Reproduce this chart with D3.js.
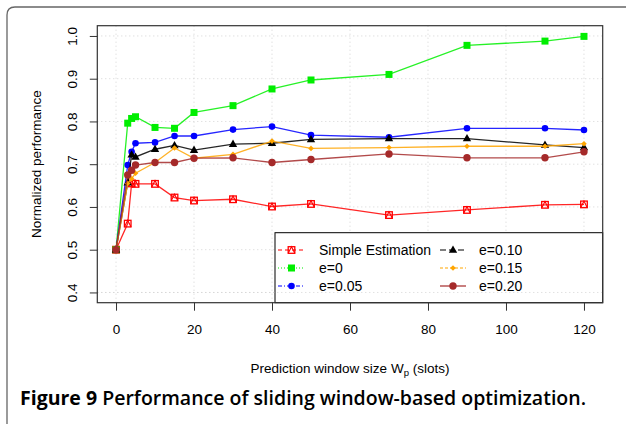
<!DOCTYPE html>
<html>
<head>
<meta charset="utf-8">
<script src="https://cdn.jsdelivr.net/npm/d3@7"></script>
<style>
  body { margin: 0; background: #fff; }
  svg text { font-family: "Liberation Sans", Arial, Helvetica, sans-serif; }
</style>
</head>
<body>
<svg id="chart" width="626" height="424"></svg>
<script>
// Données
const windowSizes = [0, 3, 4, 5, 10, 15, 20, 30, 40, 50, 70, 90, 110, 120];
const simpleEstimation = [0.5, 0.561, 0.655, 0.654, 0.654, 0.622, 0.615, 0.618, 0.601, 0.607, 0.581, 0.593, 0.605, 0.606];
const e0   = [0.5, 0.796, 0.807, 0.811, 0.786, 0.784, 0.821, 0.837, 0.876, 0.897, 0.910, 0.978, 0.988, 0.999];
const e005 = [0.5, 0.698, 0.729, 0.749, 0.751, 0.766, 0.766, 0.781, 0.788, 0.768, 0.763, 0.784, 0.784, 0.780];
const e010 = [0.5, 0.657, 0.722, 0.717, 0.735, 0.744, 0.733, 0.747, 0.749, 0.758, 0.760, 0.760, 0.745, 0.739];
const e015 = [0.5, 0.655, 0.666, 0.679, 0.704, 0.738, 0.714, 0.723, 0.754, 0.737, 0.739, 0.742, 0.742, 0.748];
const e020 = [0.5, 0.675, 0.686, 0.698, 0.704, 0.704, 0.714, 0.715, 0.704, 0.711, 0.724, 0.715, 0.715, 0.729];
const xTicks = [0, 20, 40, 60, 80, 100, 120];
const yTicks = [0.4, 0.5, 0.6, 0.7, 0.8, 0.9, 1.0];

const series = [
  { name: "Simple Estimation", values: simpleEstimation, color: "#ff0000", shape: "sqtri", dash: "4,3" },
  { name: "e=0",    values: e0,   color: "#00ee00", shape: "square",  dash: "1,2" },
  { name: "e=0.05", values: e005, color: "#0000ff", shape: "circle",  dash: "4,2,1,2" },
  { name: "e=0.10", values: e010, color: "#000000", shape: "triangle", dash: "6,3" },
  { name: "e=0.15", values: e015, color: "#ffa500", shape: "diamond", dash: "3,2" },
  { name: "e=0.20", values: e020, color: "#a52a2a", shape: "bigcircle", dash: null }
];

const svg = d3.select("#chart");
const pLeft = 97.3, pRight = 602.7, pTop = 25.7, pBottom = 302.7;

const x = d3.scaleLinear().domain([-4.8, 124.8]).range([pLeft, pRight]);
const y = d3.scaleLinear().domain([0.376, 1.024]).range([pBottom, pTop]);

// Cadre extérieur arrondi
svg.append("path")
  .attr("d", "M7,424 L7,15 Q7,7 15,7 L626,7")
  .attr("fill", "none")
  .attr("stroke", "#666")
  .attr("stroke-width", 1.3);

// Grille pointillée
const grid = svg.append("g");
grid.selectAll(".gx").data(xTicks).enter().append("line")
  .attr("x1", d => x(d)).attr("x2", d => x(d))
  .attr("y1", pTop).attr("y2", pBottom)
  .attr("stroke", "#d3d3d3").attr("stroke-dasharray", "1,3");
grid.selectAll(".gy").data(yTicks).enter().append("line")
  .attr("y1", d => y(d)).attr("y2", d => y(d))
  .attr("x1", pLeft).attr("x2", pRight)
  .attr("stroke", "#d3d3d3").attr("stroke-dasharray", "1,3");

// Symboles
function drawMarker(g, shape, color, cx, cy) {
  if (shape === "square") {
    g.append("rect").attr("x", cx - 3.5).attr("y", cy - 3.5).attr("width", 7).attr("height", 7).attr("fill", color);
  } else if (shape === "circle") {
    g.append("circle").attr("cx", cx).attr("cy", cy).attr("r", 3.3).attr("fill", color);
  } else if (shape === "bigcircle") {
    g.append("circle").attr("cx", cx).attr("cy", cy).attr("r", 3.7).attr("fill", color);
  } else if (shape === "triangle") {
    g.append("path").attr("d", `M${cx},${cy - 4.5}L${cx + 4.2},${cy + 2.8}L${cx - 4.2},${cy + 2.8}Z`).attr("fill", color);
  } else if (shape === "diamond") {
    g.append("path").attr("d", `M${cx},${cy - 2.8}L${cx + 2.8},${cy}L${cx},${cy + 2.8}L${cx - 2.8},${cy}Z`).attr("fill", color);
  } else if (shape === "sqtri") {
    g.append("rect").attr("x", cx - 3.3).attr("y", cy - 3.3).attr("width", 6.6).attr("height", 6.6)
      .attr("fill", "none").attr("stroke", color).attr("stroke-width", 1.3);
    g.append("path").attr("d", `M${cx - 3.3},${cy + 3.3}L${cx},${cy - 3.3}L${cx + 3.3},${cy + 3.3}`)
      .attr("fill", "none").attr("stroke", color).attr("stroke-width", 1.1);
  }
}

// Courbes
const line = d3.line().x(d => x(d[0])).y(d => y(d[1]));
series.forEach(s => {
  const pts = windowSizes.map((w, i) => [w, s.values[i]]);
  const g = svg.append("g");
  g.append("path").datum(pts)
    .attr("d", line)
    .attr("fill", "none")
    .attr("stroke", s.color)
    .attr("stroke-opacity", 0.85)
    .attr("stroke-width", 1.3);
  pts.forEach(p => drawMarker(g, s.shape, s.color, x(p[0]), y(p[1])));
});

// Légende
const lg = svg.append("g");
lg.append("rect")
  .attr("x", 275).attr("y", 232.7)
  .attr("width", pRight - 275).attr("height", pBottom - 232.7)
  .attr("fill", "#fff").attr("stroke", "#000").attr("stroke-width", 1);
lg.append("line").attr("x1", pLeft).attr("x2", pRight).attr("y1", y(0.4)).attr("y2", y(0.4))
  .attr("stroke", "#d3d3d3").attr("stroke-dasharray", "1,3");
const rowsY = [250, 268, 286];
series.forEach((s, i) => {
  const col = Math.floor(i / 3), row = i % 3;
  const x0 = col === 0 ? 278 : 440;
  const x1 = col === 0 ? 305 : 466;
  const ty = rowsY[row];
  const g = lg.append("g");
  g.append("line").attr("x1", x0).attr("x2", x1).attr("y1", ty).attr("y2", ty)
    .attr("stroke", s.color).attr("stroke-width", 1.2)
    .attr("stroke-dasharray", s.dash);
  drawMarker(g, s.shape, s.color, (x0 + x1) / 2, ty);
  g.append("text")
    .attr("x", col === 0 ? 319 : 479).attr("y", ty + 5)
    .attr("font-size", 14).attr("fill", "#000")
    .text(s.name);
});

// Cadre du graphique
svg.append("rect")
  .attr("x", pLeft).attr("y", pTop)
  .attr("width", pRight - pLeft).attr("height", pBottom - pTop)
  .attr("fill", "none").attr("stroke", "#333").attr("stroke-width", 1.2);

// Axes
const xAxis = svg.append("g").attr("transform", `translate(0,${pBottom})`)
  .call(d3.axisBottom(x).tickValues(xTicks).tickSize(8).tickPadding(14).tickFormat(d3.format("d")));
const yAxis = svg.append("g").attr("transform", `translate(${pLeft},0)`)
  .call(d3.axisLeft(y).tickValues(yTicks).tickSize(7.5).tickFormat(d3.format(".1f")));
[xAxis, yAxis].forEach(a => {
  a.select(".domain").remove();
  a.selectAll("line").attr("stroke", "#333");
  a.selectAll("text").attr("font-size", 13.5).attr("fill", "#000")
    .style("font-family", "'Liberation Sans', Arial, sans-serif");
});
yAxis.selectAll("text")
  .attr("x", null).attr("dy", null)
  .attr("text-anchor", "middle")
  .attr("transform", "translate(-20,0) rotate(-90)");

// Titres des axes
const xt = svg.append("text")
  .attr("x", (pLeft + pRight) / 2).attr("y", 373)
  .attr("text-anchor", "middle").attr("font-size", 13.5);
xt.append("tspan").text("Prediction window size W");
xt.append("tspan").attr("font-size", 9.5).attr("dy", 3).text("p");
xt.append("tspan").attr("dy", -3).text(" (slots)");

svg.append("text")
  .attr("transform", `translate(41,${(pTop + pBottom) / 2}) rotate(-90)`)
  .attr("text-anchor", "middle").attr("font-size", 13.5)
  .text("Normalized performance");

// Légende de la figure
const cap = svg.append("text")
  .attr("x", 20).attr("y", 405)
  .attr("font-size", 19)
  .style("font-family", "'Open Sans', 'Noto Sans', sans-serif")
  .attr("textLength", 566).attr("lengthAdjust", "spacingAndGlyphs");
cap.append("tspan").attr("font-weight", 700).text("Figure 9");
cap.append("tspan").attr("font-weight", 600).text(" Performance of sliding window-based optimization.");
</script>
</body>
</html>
